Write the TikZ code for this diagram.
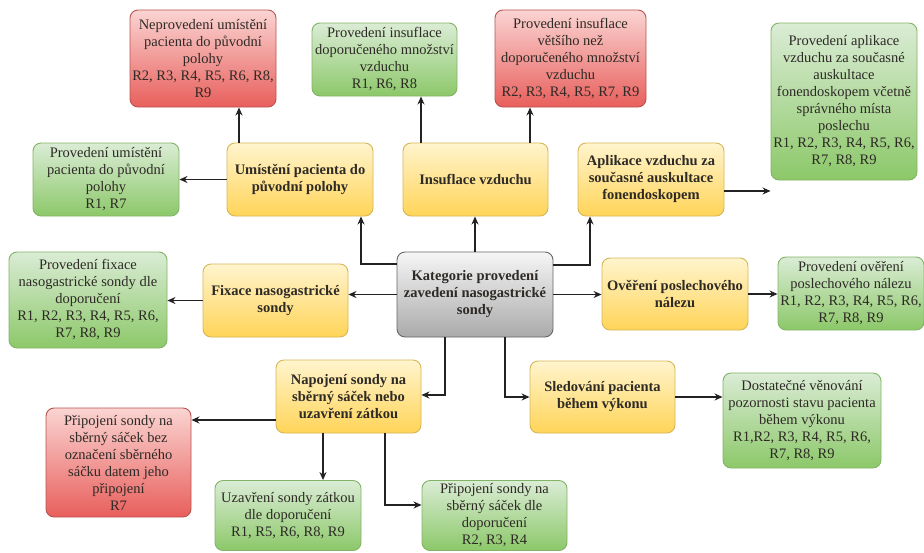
\documentclass[tikz,border=0pt]{standalone}
\usepackage{fontspec}
\setmainfont{Liberation Serif}[Ligatures=TeX]
\newfontfamily\diagfont{Liberation Serif}
\usetikzlibrary{arrows.meta,calc}
\definecolor{txt}{HTML}{2E2A26}
\definecolor{ln}{HTML}{222222}
\tikzset{
  box/.style={rounded corners=8pt, line width=0.9pt, align=center, inner sep=1pt,
    text=txt, font=\diagfont\fontsize{14.5}{17}\selectfont},
  ybox/.style={box, top color={rgb,255:red,255;green,244;blue,205}, bottom color={rgb,255:red,255;green,212;blue,88}, draw={rgb,255:red,214;green,182;blue,86},
    font=\diagfont\fontsize{14.5}{17}\selectfont\bfseries},
  gbox/.style={box, top color={rgb,255:red,218;green,236;blue,213}, bottom color={rgb,255:red,140;green,200;blue,105}, draw={rgb,255:red,130;green,179;blue,102}},
  rbox/.style={box, top color={rgb,255:red,250;green,212;blue,210}, bottom color={rgb,255:red,232;green,95;blue,92}, draw={rgb,255:red,184;green,84;blue,80}},
  kbox/.style={box, top color={rgb,255:red,246;green,246;blue,246}, bottom color={rgb,255:red,170;green,170;blue,170}, draw={rgb,255:red,102;green,102;blue,102},
    font=\diagfont\fontsize{14.5}{17}\selectfont\bfseries},
  arr/.style={-{Stealth[length=8pt,width=7pt]}, line width=1.4pt, draw=ln},
}
\begin{document}
\begin{tikzpicture}[x=1pt,y=-1pt]
\useasboundingbox (0,0) rectangle (924,552);
\clip (0,0) rectangle (924,552);
% central
\node[kbox, minimum width=156pt, minimum height=85pt] (gray) at (475,294.5) {Kategorie provedení\\zavedení nasogastrické\\sondy};
% yellow
\node[ybox, minimum width=146pt, minimum height=73pt] (umis) at (300,179.5) {Umístění pacienta do\\původní polohy};
\node[ybox, minimum width=145pt, minimum height=73pt] (insuf) at (475.5,179.5) {Insuflace vzduchu};
\node[ybox, minimum width=146pt, minimum height=73pt] (apl) at (651,179.5) {Aplikace vzduchu za\\současné auskultace\\fonendoskopem};
\node[ybox, minimum width=145pt, minimum height=73pt] (fix) at (275.5,300.5) {Fixace nasogastrické\\sondy};
\node[ybox, minimum width=146pt, minimum height=72pt] (over) at (675,294) {Ověření poslechového\\nálezu};
\node[ybox, minimum width=145pt, minimum height=73pt] (nap) at (348.5,396.5) {Napojení sondy na\\sběrný sáček nebo\\uzavření zátkou};
\node[ybox, minimum width=145pt, minimum height=72pt] (sled) at (602.5,397) {Sledování pacienta\\během výkonu};
% outcomes
\node[rbox, minimum width=146pt, minimum height=97pt] (r1) at (203,58.5) {Neprovedení umístění\\pacienta do původní\\polohy\\R2, R3, R4, R5, R6, R8,\\R9};
\node[gbox, minimum width=145pt, minimum height=73pt] (g2) at (384.5,59.5) {Provedení insuflace\\doporučeného množství\\vzduchu\\R1, R6, R8};
\node[rbox, minimum width=151pt, minimum height=97pt] (r2) at (570.5,58.5) {Provedení insuflace\\většího než\\doporučeného množství\\vzduchu\\R2, R3, R4, R5, R7, R9};
\node[gbox, minimum width=146pt, minimum height=157pt] (g3) at (844,101.5) {Provedení aplikace\\vzduchu za současné\\auskultace\\fonendoskopem včetně\\správného místa\\poslechu\\R1, R2, R3, R4, R5, R6,\\R7, R8, R9};
\node[gbox, minimum width=146pt, minimum height=73pt] (g1) at (106,179.5) {Provedení umístění\\pacienta do původní\\polohy\\R1, R7};
\node[gbox, minimum width=158pt, minimum height=96pt] (gfix) at (88,300) {Provedení fixace\\nasogastrické sondy dle\\doporučení\\R1, R2, R3, R4, R5, R6,\\R7, R8, R9};
\node[gbox, minimum width=146pt, minimum height=73pt] (gover) at (851,293.5) {Provedení ověření\\poslechového nálezu\\R1, R2, R3, R4, R5, R6,\\R7, R8, R9};
\node[rbox, minimum width=145pt, minimum height=109pt] (r3) at (118.5,462.5) {Připojení sondy na\\sběrný sáček bez\\označení sběrného\\sáčku datem jeho\\připojení\\R7};
\node[gbox, minimum width=146pt, minimum height=70pt] (uzav) at (288,515.5) {Uzavření sondy zátkou\\dle doporučení\\R1, R5, R6, R8, R9};
\node[gbox, minimum width=145pt, minimum height=70pt] (prip) at (494.5,515.5) {Připojení sondy na\\sběrný sáček dle\\doporučení\\R2, R3, R4};
\node[gbox, minimum width=158pt, minimum height=95pt] (dost) at (802,420.5) {Dostatečné věnování\\pozornosti stavu pacienta\\během výkonu\\R1,R2, R3, R4, R5, R6,\\R7, R8, R9};
% connectors from central node
\draw[arr] ([yshift=30.5pt]gray.west) -| ([xshift=61pt]umis.south);
\draw[arr] (gray.north) -- (gray.north |- insuf.south);
\draw[arr] ([yshift=29.5pt]gray.east) -| ([xshift=-61pt]apl.south);
\draw[arr] (gray.west) -- (gray.west -| fix.east);
\draw[arr] (gray.east) -- (gray.east -| over.west);
\draw[arr] ([xshift=-30pt]gray.south) |- ([yshift=1.5pt]nap.east);
\draw[arr] ([xshift=30pt]gray.south) |- (sled.west);
% connectors to outcomes
\draw[arr] ([xshift=-61pt]umis.north) -- ([xshift=-61pt]umis.north |- r1.south);
\draw[arr] (umis.west) -- (umis.west -| g1.east);
\draw[arr] ([xshift=-54.5pt]insuf.north) -- ([xshift=-54.5pt]insuf.north |- g2.south);
\draw[arr] ([xshift=54.5pt]insuf.north) -- ([xshift=54.5pt]insuf.north |- r2.south);
\draw[arr] ([yshift=-11.5pt]apl.east) -- ([yshift=-11.5pt]apl.east -| g3.west);
\draw[arr] (fix.west) -- (fix.west -| gfix.east);
\draw[arr] (over.east) -- (over.east -| gover.west);
\draw[arr] ([yshift=-23.5pt]nap.west) -- ([yshift=-23.5pt]nap.west -| r3.east);
\draw[arr] ([xshift=-25.5pt]nap.south) -- ([xshift=-25.5pt]nap.south |- uzav.north);
\draw[arr] ([xshift=36.5pt]nap.south) |- ([yshift=10.5pt]prip.west);
\draw[arr] (sled.east) -- (sled.east -| dost.west);
\end{tikzpicture}
\end{document}
